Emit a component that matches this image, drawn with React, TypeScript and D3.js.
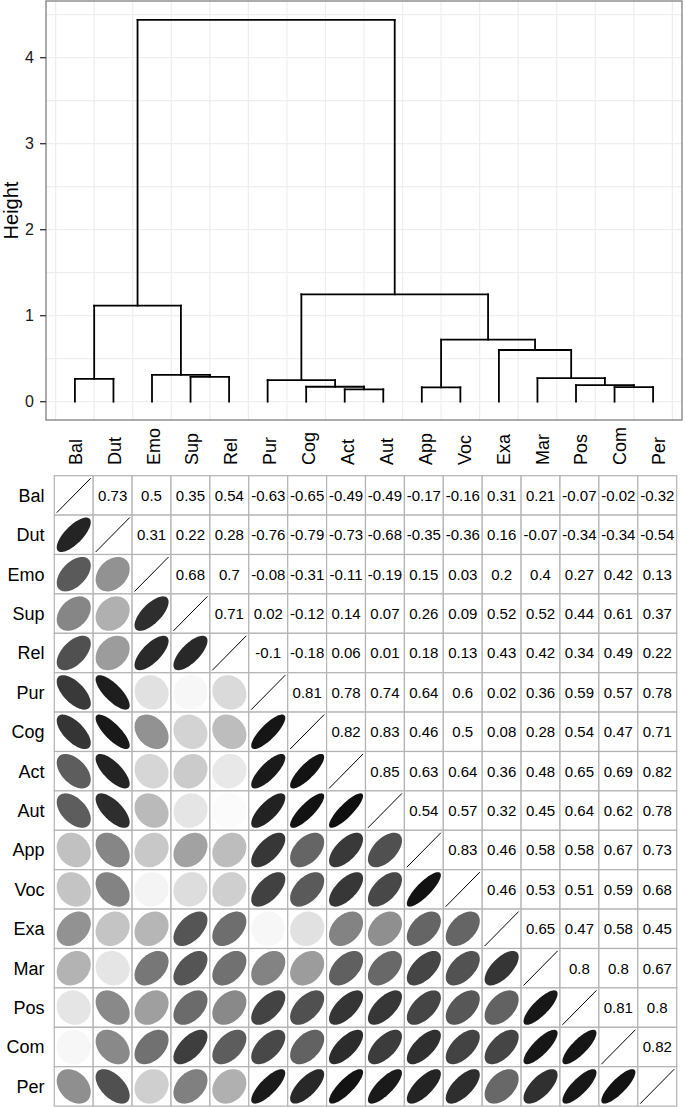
import React from "react";
import * as d3 from "d3";

// ---- data ----
const labels = ["Bal", "Dut", "Emo", "Sup", "Rel", "Pur", "Cog", "Act", "Aut", "App", "Voc", "Exa", "Mar", "Pos", "Com", "Per"];

// hclust-style merge table: negative = leaf (1-based index into labels), positive = earlier merge
const mergeA = [-8, -10, -15, -7, -14, -6, -1, -13, -4, -3, -12, 2, 7, 6, 13];
const mergeB = [-9, -11, -16, 1, 3, 4, -2, 5, -5, 9, 8, 11, 10, 12, 14];
const mergeHeight = [0.144, 0.167, 0.169, 0.174, 0.192, 0.252, 0.266, 0.274, 0.289, 0.312, 0.601, 0.721, 1.116, 1.249, 4.44];

const yTicks = [0, 1, 2, 3, 4];

// upper triangle correlations, row by row (columns after the diagonal)
const corBal = [0.73, 0.5, 0.35, 0.54, -0.63, -0.65, -0.49, -0.49, -0.17, -0.16, 0.31, 0.21, -0.07, -0.02, -0.32];
const corDut = [0.31, 0.22, 0.28, -0.76, -0.79, -0.73, -0.68, -0.35, -0.36, 0.16, -0.07, -0.34, -0.34, -0.54];
const corEmo = [0.68, 0.7, -0.08, -0.31, -0.11, -0.19, 0.15, 0.03, 0.2, 0.4, 0.27, 0.42, 0.13];
const corSup = [0.71, 0.02, -0.12, 0.14, 0.07, 0.26, 0.09, 0.52, 0.52, 0.44, 0.61, 0.37];
const corRel = [-0.1, -0.18, 0.06, 0.01, 0.18, 0.13, 0.43, 0.42, 0.34, 0.49, 0.22];
const corPur = [0.81, 0.78, 0.74, 0.64, 0.6, 0.02, 0.36, 0.59, 0.57, 0.78];
const corCog = [0.82, 0.83, 0.46, 0.5, 0.08, 0.28, 0.54, 0.47, 0.71];
const corAct = [0.85, 0.63, 0.64, 0.36, 0.48, 0.65, 0.69, 0.82];
const corAut = [0.54, 0.57, 0.32, 0.45, 0.64, 0.62, 0.78];
const corApp = [0.83, 0.46, 0.58, 0.58, 0.67, 0.73];
const corVoc = [0.46, 0.53, 0.51, 0.59, 0.68];
const corExa = [0.65, 0.47, 0.58, 0.45];
const corMar = [0.8, 0.8, 0.67];
const corPos = [0.81, 0.8];
const corCom = [0.82];
const upperRows = [corBal, corDut, corEmo, corSup, corRel, corPur, corCog, corAct, corAut, corApp, corVoc, corExa, corMar, corPos, corCom];

const FONT = "'Liberation Sans', Arial, Helvetica, sans-serif";

export default function App() {
  const n = labels.length;
  // full symmetric matrix
  const M: number[][] = labels.map(() => labels.map(() => 1));
  upperRows.forEach((row, i) => {
    row.forEach((v, k) => {
      const j = i + 1 + k;
      M[i][j] = v;
      M[j][i] = v;
    });
  });

  // ---- dendrogram panel ----
  const pL = 46, pR = 682, pT = 1, pB = 420;
  const x = d3.scaleLinear().domain([0.25, n + 0.75]).range([pL, pR]);
  const y = d3.scaleLinear().domain([0, 4]).range([401.7, 57.7]);

  const nodeX: number[] = [];
  const nodeY: number[] = [];
  const pos = (id: number) => (id < 0 ? { px: x(-id), py: y(0) } : { px: nodeX[id - 1], py: nodeY[id - 1] });
  const segs: { x1: number; y1: number; x2: number; y2: number }[] = [];
  mergeA.forEach((a, i) => {
    const A = pos(a);
    const B = pos(mergeB[i]);
    const h = y(mergeHeight[i]);
    nodeX.push((A.px + B.px) / 2);
    nodeY.push(h);
    segs.push({ x1: A.px, y1: h, x2: B.px, y2: h });
    segs.push({ x1: A.px, y1: A.py, x2: A.px, y2: h });
    segs.push({ x1: B.px, y1: B.py, x2: B.px, y2: h });
  });

  const hGrid = d3.range(0, 4.51, 0.5);
  const vGrid = d3.range(0.5, n + 0.51, 1);

  // ---- matrix ----
  const cx = d3.scaleBand<string>().domain(labels).range([54.3, 676.7]);
  const cy = d3.scaleBand<string>().domain(labels).range([475.7, 1106.1]);
  const cw = cx.bandwidth();
  const ch = cy.bandwidth();
  const ex = cw / 2 * 0.875;
  const ey = ch / 2 * 0.875;

  const ellipsePath = (r: number) => {
    const d = Math.acos(r);
    const pts = d3.range(0, 72).map((k) => {
      const t = (k / 72) * 2 * Math.PI;
      return [Math.cos(t + d / 2) * ex, -Math.cos(t - d / 2) * ey] as [number, number];
    });
    return d3.line().curve(d3.curveLinearClosed)(pts) as string;
  };
  const grayOf = (r: number) => {
    const g = Math.round(255 * Math.pow(1 - Math.abs(r), 1.5));
    return d3.rgb(g, g, g).toString();
  };

  const cells: React.ReactNode[] = [];
  labels.forEach((rl, i) => {
    labels.forEach((cl, j) => {
      const x0 = cx(cl)!;
      const y0 = cy(rl)!;
      const mx = x0 + cw / 2;
      const my = y0 + ch / 2;
      const v = M[i][j];
      let content: React.ReactNode = null;
      if (i < j) {
        content = (
          <text x={mx} y={my} dy="0.36em" textAnchor="middle" fontSize={15} fontFamily={FONT} fill="#000">
            {String(v)}
          </text>
        );
      } else if (i === j) {
        content = <line x1={mx - ex} y1={my + ey} x2={mx + ex} y2={my - ey} stroke="#000" strokeWidth={1} />;
      } else {
        content = <path d={ellipsePath(v)} transform={`translate(${mx},${my})`} fill={grayOf(v)} />;
      }
      cells.push(
        <g key={`${i}-${j}`}>
          <rect x={x0} y={y0} width={cw} height={ch} fill="#fff" stroke="#b3b3b3" strokeWidth={1.2} />
          {content}
        </g>
      );
    });
  });

  return (
    <svg width={685} height={1107} style={{ position: "absolute", left: 0, top: 0, background: "#fff" }}>
      <rect x={0} y={0} width={685} height={1107} fill="#fff" />
      {/* grid */}
      <g>
        {hGrid.map((g) => (
          <line key={"h" + g} x1={pL} x2={pR} y1={y(g)} y2={y(g)} stroke="#eeeeee" strokeWidth={1.2} />
        ))}
        {vGrid.map((g) => (
          <line key={"v" + g} x1={x(g)} x2={x(g)} y1={pT} y2={pB} stroke="#eeeeee" strokeWidth={1.2} />
        ))}
      </g>
      {/* dendrogram */}
      <g stroke="#000" strokeWidth={1.8} strokeLinecap="square">
        {segs.map((s, k) => (
          <line key={k} x1={s.x1} y1={s.y1} x2={s.x2} y2={s.y2} />
        ))}
      </g>
      <rect x={pL} y={pT} width={pR - pL} height={pB - pT} fill="none" stroke="#808080" strokeWidth={1.3} />
      {/* y axis */}
      <g>
        {yTicks.map((t) => (
          <g key={t}>
            <line x1={pL - 6} x2={pL} y1={y(t)} y2={y(t)} stroke="#333" strokeWidth={1.3} />
            <text x={pL - 12} y={y(t)} dy="0.36em" textAnchor="end" fontSize={16} fontFamily={FONT} fill="#1a1a1a">
              {t}
            </text>
          </g>
        ))}
        <text
          transform={`translate(17.5,${(pT + pB) / 2}) rotate(-90)`}
          textAnchor="middle"
          fontSize={20}
          fontFamily={FONT}
          fill="#000"
        >
          Height
        </text>
      </g>
      {/* column labels */}
      <g>
        {labels.map((l) => (
          <text
            key={l}
            transform={`translate(${cx(l)! + cw / 2 + 1.5},465) rotate(-90)`}
            dy="0.36em"
            textAnchor="start"
            fontSize={18}
            fontFamily={FONT}
            fill="#000"
          >
            {l}
          </text>
        ))}
      </g>
      {/* row labels */}
      <g>
        {labels.map((l) => (
          <text key={l} x={44.5} y={cy(l)! + ch / 2} dy="0.36em" textAnchor="end" fontSize={18} fontFamily={FONT} fill="#000">
            {l}
          </text>
        ))}
      </g>
      {/* matrix */}
      <g>{cells}</g>
    </svg>
  );
}
